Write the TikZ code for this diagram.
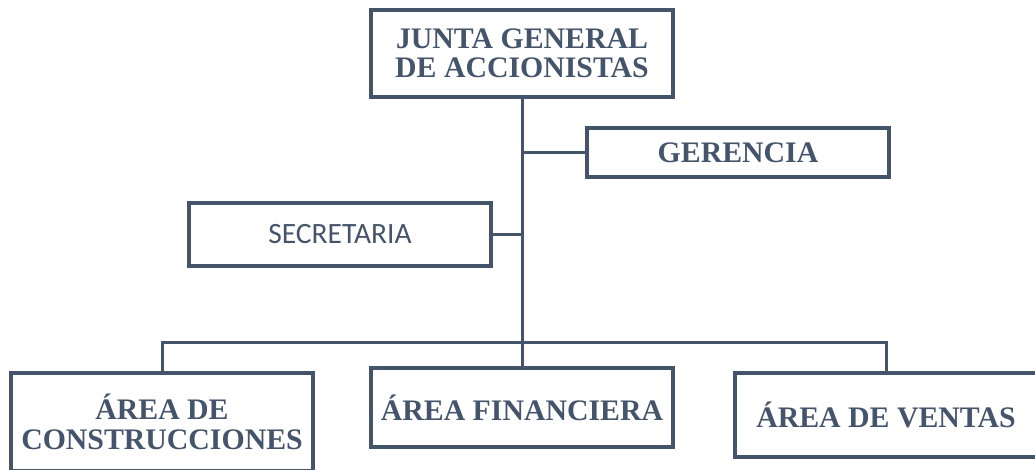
\documentclass[tikz,border=0pt]{standalone}
\usepackage{fontspec}
\setmainfont{Liberation Serif}
\newfontfamily\carlito{Carlito}
\definecolor{slate}{HTML}{44546A}
\begin{document}
\begin{tikzpicture}[x=1pt,y=-1pt,
  box/.style={draw=slate,line width=3.2pt,rectangle,inner sep=0pt,
    minimum width=302pt,text=slate,align=center,
    font=\fontsize{29.8}{29.5}\selectfont\bfseries},
  link/.style={draw=slate,line width=3pt,line join=miter}]
\useasboundingbox (0,0) rectangle (1035,469);
\node[box,minimum height=87pt] (junta) at (522,53.5) {JUNTA GENERAL\\DE ACCIONISTAS};
\node[box,minimum height=49pt] (ger) at (738,152.5) {GERENCIA};
\node[box,minimum height=63pt,font=\carlito\fontsize{29.5}{29}\selectfont] (sec) at (340,234.5) {SECRETARIA};
\node[box,minimum height=98pt] (cons) at (162,422) {ÁREA DE\\CONSTRUCCIONES};
\node[box,minimum height=79pt] (fin) at (522,407.5) {ÁREA FINANCIERA};
\node[box,minimum height=84pt] (ven) at (886,415) {ÁREA DE VENTAS};
\coordinate (bus) at (522,342);
\draw[link] (junta.south) -- (fin.north);
\draw[link] (junta.south |- ger.west) -- (ger.west);
\draw[link] (sec.east) -- (sec.east -| junta.south);
\draw[link] (cons.north) |- (bus) -| (ven.north);
\end{tikzpicture}
\end{document}
